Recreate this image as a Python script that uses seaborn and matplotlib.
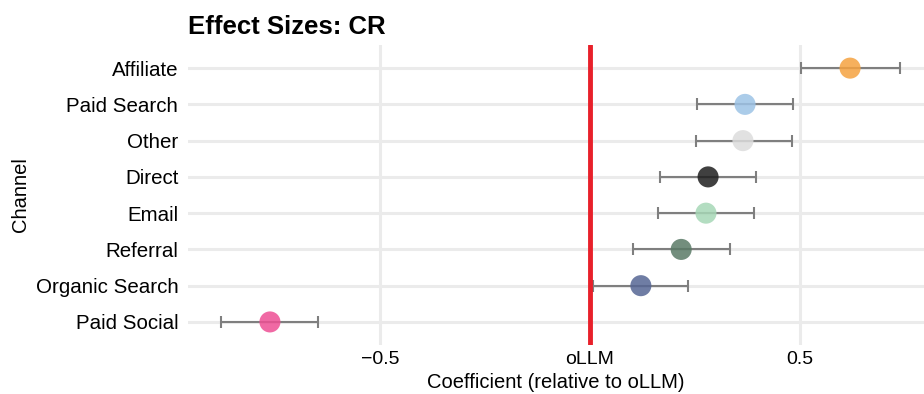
import pandas as pd
import matplotlib
matplotlib.use('Agg')
import matplotlib.pyplot as plt
import seaborn as sns

channels = ['Affiliate', 'Paid Search', 'Other', 'Direct', 'Email',
            'Referral', 'Organic Search', 'Paid Social']
coef = [0.619, 0.369, 0.364, 0.281, 0.276, 0.217, 0.121, -0.762]
lower = [0.502, 0.255, 0.252, 0.167, 0.162, 0.102, 0.007, -0.879]
upper = [0.738, 0.483, 0.481, 0.395, 0.390, 0.333, 0.233, -0.648]
colors = ['#F5A240', '#9DC3E6', '#DCDCDC', '#1E1E1E', '#A6D7B6',
          '#5A7A66', '#566694', '#EE4F94']
xticks = [-0.5, 0, 0.5]
xticklabels = ['\u22120.5', 'oLLM', '0.5']

df = pd.DataFrame({'Channel': channels, 'coef': coef, 'lo': lower, 'hi': upper})

sns.set_style('white')
plt.rcParams['font.family'] = ['Liberation Sans', 'DejaVu Sans']
plt.rcParams['text.color'] = 'black'
plt.rcParams['axes.labelcolor'] = 'black'
plt.rcParams['xtick.color'] = 'black'
plt.rcParams['ytick.color'] = 'black'

fig = plt.figure(figsize=(9.24, 3.94), dpi=100)
ax = fig.add_axes([0.2035, 0.124, 0.7965, 0.762])

ypos = list(range(len(channels)))
for y in ypos:
    ax.axhline(y, color='#EBEBEB', lw=2.2, zorder=0)
for xv in [-0.5, 0.5]:
    ax.axvline(xv, color='#EBEBEB', lw=2.2, zorder=0)

ax.errorbar(df['coef'], ypos,
            xerr=[df['coef'] - df['lo'], df['hi'] - df['coef']],
            fmt='none', ecolor='#7F7F7F', elinewidth=1.5, capsize=4,
            capthick=1.5, zorder=2)
ax.axvline(0, color='#E8202A', lw=3.5, zorder=3)

sns.scatterplot(x=df['coef'], y=ypos, hue=df['Channel'], palette=colors,
                s=230, alpha=0.85, edgecolor='none', legend=False, ax=ax, zorder=4)

ax.set_yticks(ypos)
ax.set_yticklabels(channels, fontsize=14.8)
ax.set_ylim(7.64, -0.64)
ax.set_xlim(-0.957, 0.795)
ax.set_xticks(xticks)
ax.set_xticklabels(xticklabels, fontsize=14)
ax.tick_params(axis='x', length=0, pad=4)
ax.tick_params(axis='y', length=0, pad=7)
ax.set_xlabel('Coefficient (relative to oLLM)', fontsize=14.5, labelpad=4)
ax.set_ylabel('Channel', fontsize=14.5, labelpad=4)
sns.despine(ax=ax, left=True, bottom=True)
ax.set_title('Effect Sizes: CR', fontsize=18.5, fontweight='bold', loc='left', pad=8)

fig.savefig('out.png', dpi=100)
